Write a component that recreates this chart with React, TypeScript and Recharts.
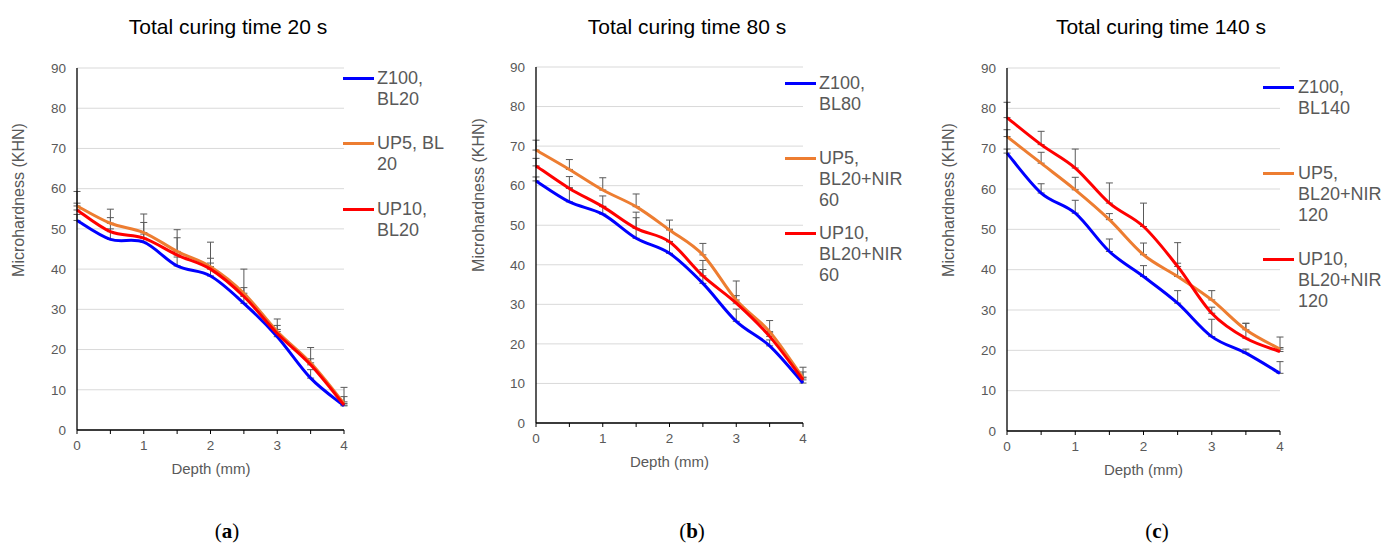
import React from 'react';
import { LineChart, Line, XAxis, YAxis, CartesianGrid, ErrorBar } from 'recharts';

// ---------- data ----------
const depth = [0, 0.5, 1, 1.5, 2, 2.5, 3, 3.5, 4];
const xTicks = [0, 0.5, 1, 1.5, 2, 2.5, 3, 3.5, 4];
const yTicks = [0, 10, 20, 30, 40, 50, 60, 70, 80, 90];

const titles = ['Total curing time 20 s', 'Total curing time 80 s', 'Total curing time 140 s'];
const captions = ['a', 'b', 'c'];
const yLabel = 'Microhardness (KHN)';
const xLabel = 'Depth (mm)';

const legendA = ['Z100,\nBL20', 'UP5, BL\n20', 'UP10,\nBL20'];
const legendB = ['Z100,\nBL80', 'UP5,\nBL20+NIR\n60', 'UP10,\nBL20+NIR\n60'];
const legendC = ['Z100,\nBL140', 'UP5,\nBL20+NIR\n120', 'UP10,\nBL20+NIR\n120'];

// panel (a) 20 s
const aZ = [52.1, 47.4, 46.7, 40.8, 38.3, 31.5, 23.2, 12.9, 6.0];
const aUP5 = [55.7, 51.4, 49.1, 44.4, 40.6, 34.0, 24.5, 16.7, 6.6];
const aUP10 = [54.7, 49.3, 47.7, 43.5, 40.0, 33.2, 24.0, 16.2, 6.2];
const aZErr = [1.5, 2.6, 2.0, 2.2, 3.2, 2.0, 1.8, 2.1, 1.0];
const aUP5Err = [3.6, 3.5, 4.6, 5.4, 6.1, 6.0, 3.1, 3.8, 4.0];
const aUP10Err = [1.7, 3.5, 3.9, 4.3, 2.7, 2.2, 2.0, 1.5, 2.1];

// panel (b) 80 s
const bZ = [61.2, 55.9, 52.8, 46.7, 42.9, 35.3, 25.7, 19.5, 10.1];
const bUP5 = [69.0, 64.1, 58.9, 54.7, 48.8, 42.5, 31.1, 23.1, 11.4];
const bUP10 = [65.0, 59.3, 54.7, 49.2, 45.8, 37.2, 30.3, 21.9, 10.9];
const bZErr = [1.0, 3.6, 2.0, 5.2, 3.0, 3.5, 3.1, 1.5, 1.5];
const bUP5Err = [2.5, 2.5, 3.1, 3.2, 2.5, 2.9, 4.8, 2.8, 2.7];
const bUP10Err = [1.9, 3.0, 2.7, 4.1, 3.2, 3.9, 1.9, 0.9, 2.0];

// panel (c) 140 s
const cZ = [68.9, 59.0, 54.0, 44.5, 38.3, 31.7, 23.4, 19.3, 14.3];
const cUP5 = [73.0, 66.4, 59.8, 52.4, 43.7, 38.3, 32.5, 25.1, 20.3];
const cUP10 = [77.7, 71.0, 65.2, 56.5, 50.7, 40.8, 29.2, 23.0, 19.7];
const cZErr = [1.0, 2.3, 3.2, 3.1, 2.7, 3.1, 4.3, 1.0, 2.9];
const cUP5Err = [1.7, 2.7, 3.1, 1.5, 2.9, 3.3, 2.3, 1.6, 3.0];
const cUP10Err = [3.8, 3.3, 4.7, 5.0, 5.8, 5.9, 1.5, 3.7, 1.0];

const colors = ['#0000FF', '#ED7D31', '#FF0000'];
const keys = ['z', 'up5', 'up10'];
const errKeys = ['zErr', 'up5Err', 'up10Err'];

function buildRows(z: number[], u5: number[], u10: number[], ze: number[], u5e: number[], u10e: number[]) {
  return depth.map((d, i) => ({
    depth: d,
    z: z[i],
    up5: u5[i],
    up10: u10[i],
    zErr: [0, ze[i]],
    up5Err: [0, u5e[i]],
    up10Err: [0, u10e[i]],
  }));
}

const rowsA = buildRows(aZ, aUP5, aUP10, aZErr, aUP5Err, aUP10Err);
const rowsB = buildRows(bZ, bUP5, bUP10, bZErr, bUP5Err, bUP10Err);
const rowsC = buildRows(cZ, cUP5, cUP10, cZErr, cUP5Err, cUP10Err);

// Excel-like smoothed line (Catmull-Rom style bezier)
function excelSmooth(context: any) {
  let pts: number[][] = [];
  return {
    areaStart() {},
    areaEnd() {},
    lineStart() {
      pts = [];
    },
    point(x: number, y: number) {
      pts.push([+x, +y]);
    },
    lineEnd() {
      if (!pts.length) return;
      context.moveTo(pts[0][0], pts[0][1]);
      for (let i = 0; i < pts.length - 1; i++) {
        const p0 = pts[i - 1] || pts[i];
        const p1 = pts[i];
        const p2 = pts[i + 1];
        const p3 = pts[i + 2] || p2;
        const c1x = p1[0] + (p2[0] - p0[0]) / 6;
        const c1y = p1[1] + (p2[1] - p0[1]) / 6;
        const c2x = p2[0] - (p3[0] - p1[0]) / 6;
        const c2y = p2[1] - (p3[1] - p1[1]) / 6;
        context.bezierCurveTo(c1x, c1y, c2x, c2y, p2[0], p2[1]);
      }
    },
  };
}

const SANS = '"Liberation Sans", Arial, sans-serif';
const GRAY = '#595959';

type PanelProps = {
  left: number;
  width: number;
  height: number;
  margin: { top: number; right: number; bottom: number; left: number };
  rows: any[];
};

function Panel({ left, width, height, margin, rows }: PanelProps) {
  return (
    <div style={{ position: 'absolute', left, top: 0, width, height }}>
      <LineChart width={width} height={height} data={rows} margin={margin}>
        <CartesianGrid vertical={false} stroke="#d9d9d9" strokeWidth={1} />
        <XAxis
          dataKey="depth"
          type="number"
          domain={[0, 4]}
          ticks={xTicks}
          interval={0}
          tickFormatter={(v: number) => (Number.isInteger(v) ? String(v) : '')}
          axisLine={{ stroke: '#000', strokeWidth: 1.3 }}
          tickLine={{ stroke: '#000', strokeWidth: 1 }}
          tickSize={4}
          tickMargin={6}
          height={30}
          tick={{ fill: GRAY, fontSize: 13.5, fontFamily: SANS }}
        />
        <YAxis
          type="number"
          domain={[0, 90]}
          ticks={yTicks}
          interval={0}
          width={40}
          axisLine={{ stroke: '#000', strokeWidth: 1.3 }}
          tickLine={false}
          tickSize={6}
          tickMargin={5}
          tick={{ fill: GRAY, fontSize: 13.5, fontFamily: SANS }}
        />
        {keys.map((k, i) => (
          <Line
            key={'e' + k}
            dataKey={k}
            stroke="none"
            dot={false}
            activeDot={false}
            legendType="none"
            isAnimationActive={false}
          >
            <ErrorBar dataKey={errKeys[i]} direction="y" width={3.5} stroke="#595959" strokeWidth={1} />
          </Line>
        ))}
        {keys.map((k, i) => (
          <Line
            key={k}
            dataKey={k}
            type={excelSmooth as any}
            stroke={colors[i]}
            strokeWidth={3}
            dot={false}
            activeDot={false}
            isAnimationActive={false}
          />
        ))}
      </LineChart>
    </div>
  );
}

function CenterText({ x, y, text, size, color, rotate, family, weight }: any) {
  return (
    <div
      style={{
        position: 'absolute',
        left: x,
        top: y,
        transform: `translate(-50%, -50%)${rotate ? ' rotate(-90deg)' : ''}`,
        whiteSpace: 'nowrap',
        fontSize: size,
        lineHeight: 1,
        color,
        fontFamily: family || SANS,
        fontWeight: weight || 'normal',
      }}
    >
      {text}
    </div>
  );
}

function Legend({ lineX, textX, ys, labels }: { lineX: number; textX: number; ys: number[]; labels: string[] }) {
  return (
    <>
      {labels.map((lab, i) => (
        <React.Fragment key={i}>
          <div
            style={{
              position: 'absolute',
              left: lineX,
              top: ys[i] - 1.5,
              width: 31,
              height: 3,
              background: colors[i],
            }}
          />
          <div
            style={{
              position: 'absolute',
              left: textX,
              top: ys[i] - 10.5,
              fontSize: 18,
              lineHeight: '21px',
              color: GRAY,
              fontFamily: SANS,
              whiteSpace: 'pre',
            }}
          >
            {lab}
          </div>
        </React.Fragment>
      ))}
    </>
  );
}

function Caption({ x, y, letter }: { x: number; y: number; letter: string }) {
  return (
    <div
      style={{
        position: 'absolute',
        left: x,
        top: y,
        transform: 'translate(-50%, -50%)',
        fontSize: 21,
        lineHeight: 1,
        fontFamily: '"Liberation Serif", "DejaVu Serif", serif',
        color: '#000',
        whiteSpace: 'nowrap',
      }}
    >
      (<b>{letter}</b>)
    </div>
  );
}

export default function App() {
  return (
    <div
      style={{
        position: 'absolute',
        left: 0,
        top: 0,
        width: 1385,
        height: 543,
        background: '#fff',
        overflow: 'hidden',
      }}
    >
      <Panel left={0} width={460} height={543} margin={{ top: 68, right: 116, bottom: 83, left: 37 }} rows={rowsA} />
      <Panel left={460} width={460} height={543} margin={{ top: 67, right: 117, bottom: 90, left: 36 }} rows={rowsB} />
      <Panel left={920} width={465} height={543} margin={{ top: 68, right: 105, bottom: 82, left: 47 }} rows={rowsC} />

      <CenterText x={228} y={26} text={titles[0]} size={21} color="#000" />
      <CenterText x={687} y={26} text={titles[1]} size={21} color="#000" />
      <CenterText x={1161} y={26} text={titles[2]} size={21} color="#000" />

      <CenterText x={19} y={200} text={yLabel} size={16} color={GRAY} rotate />
      <CenterText x={479} y={195} text={yLabel} size={16} color={GRAY} rotate />
      <CenterText x={949} y={200} text={yLabel} size={16} color={GRAY} rotate />

      <CenterText x={211} y={467.5} text={xLabel} size={15} color={GRAY} />
      <CenterText x={669.5} y={460.5} text={xLabel} size={15} color={GRAY} />
      <CenterText x={1143.5} y={468.5} text={xLabel} size={15} color={GRAY} />

      <Legend lineX={343} textX={377} ys={[78, 143, 209]} labels={legendA} />
      <Legend lineX={785} textX={819} ys={[83, 158, 233]} labels={legendB} />
      <Legend lineX={1263} textX={1298} ys={[87, 173, 259]} labels={legendC} />

      <Caption x={227} y={531} letter={captions[0]} />
      <Caption x={692} y={531} letter={captions[1]} />
      <Caption x={1157} y={531} letter={captions[2]} />
    </div>
  );
}
